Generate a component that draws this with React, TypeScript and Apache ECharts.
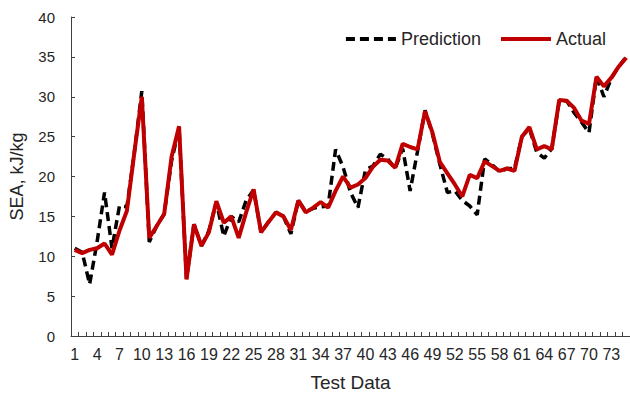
import React, { useEffect, useRef } from "react";
import * as echarts from "echarts";

const categories = [
  "1", "2", "3", "4", "5", "6", "7", "8", "9", "10",
  "11", "12", "13", "14", "15", "16", "17", "18", "19", "20",
  "21", "22", "23", "24", "25", "26", "27", "28", "29", "30",
  "31", "32", "33", "34", "35", "36", "37", "38", "39", "40",
  "41", "42", "43", "44", "45", "46", "47", "48", "49", "50",
  "51", "52", "53", "54", "55", "56", "57", "58", "59", "60",
  "61", "62", "63", "64", "65", "66", "67", "68", "69", "70",
  "71", "72", "73", "74", "75",
];

const actual = [
  10.8, 10.4, 10.8, 11.0, 11.6, 10.2, 13.2, 15.7, 23.0, 30.0,
  12.3, 13.8, 15.3, 22.5, 26.3, 7.1, 14.0, 11.3, 13.0, 16.9,
  14.2, 15.0, 12.3, 15.5, 18.4, 13.0, 14.3, 15.5, 15.0, 13.3,
  17.0, 15.5, 16.1, 16.8, 16.1, 18.2, 20.0, 18.6, 19.0, 19.8,
  21.2, 22.1, 22.0, 21.1, 24.1, 23.7, 23.4, 28.2, 25.5, 21.8,
  20.4, 19.0, 17.5, 20.2, 19.8, 21.9, 21.3, 20.7, 21.0, 20.7,
  25.0, 26.2, 23.4, 23.8, 23.4, 29.6, 29.5, 28.6, 27.0, 26.6,
  32.5, 31.3, 32.4, 33.8, 34.9,
];

const prediction = [
  11.0, 10.5, 6.5, 11.8, 18.0, 11.0, 16.3, 16.2, 23.0, 30.7,
  11.8, 13.8, 15.3, 22.0, 26.0, 7.2, 14.0, 11.3, 13.2, 16.8,
  12.5, 15.0, 14.3, 17.0, 18.3, 13.0, 14.3, 15.5, 15.0, 12.8,
  17.0, 15.6, 16.0, 16.2, 16.3, 23.4, 21.2, 18.0, 16.1, 20.8,
  21.3, 22.8, 22.2, 21.0, 23.5, 18.2, 23.2, 28.3, 25.3, 21.5,
  18.0, 18.2, 17.0, 16.3, 15.2, 22.2, 21.5, 20.6, 21.0, 21.0,
  25.0, 26.0, 23.0, 22.3, 23.5, 29.4, 29.5, 28.0, 26.8, 25.5,
  32.5, 30.0, 32.3, 33.8, 35.0,
];

const FONT = "'Liberation Sans', Arial, sans-serif";

export default function App() {
  const ref = useRef<HTMLDivElement>(null);

  useEffect(() => {
    if (!ref.current) return;
    const chart = echarts.init(ref.current, undefined, { renderer: "svg" });
    chart.setOption({
      animation: false,
      backgroundColor: "#ffffff",
      textStyle: { fontFamily: FONT },
      legend: {
        right: 19,
        top: 25,
        itemWidth: 50,
        itemHeight: 14,
        itemGap: 18,
        itemStyle: { opacity: 0 },
        lineStyle: { width: 4 },
        textStyle: { fontSize: 18, color: "#262626", fontFamily: FONT },
        data: ["Prediction", "Actual"],
      },
      grid: { left: 69, right: 0, top: 17, bottom: 60, containLabel: false },
      xAxis: {
        type: "category",
        data: categories,
        boundaryGap: true,
        name: "Test Data",
        nameLocation: "middle",
        nameGap: 37,
        nameTextStyle: { fontSize: 19, color: "#262626", fontFamily: FONT },
        axisLine: { lineStyle: { color: "#404040", width: 1 } },
        axisTick: { show: true, inside: true, length: 4, interval: 0, lineStyle: { color: "#404040" } },
        axisLabel: { interval: 2, fontSize: 16, color: "#262626", margin: 10, fontFamily: FONT },
        splitLine: { show: false },
      },
      yAxis: {
        type: "value",
        min: 0,
        max: 40,
        interval: 5,
        name: "SEA, kJ/kg",
        nameLocation: "middle",
        nameGap: 45,
        nameTextStyle: { fontSize: 18, color: "#262626", fontFamily: FONT },
        axisLine: { show: true, lineStyle: { color: "#404040", width: 1 } },
        axisTick: { show: true, inside: true, length: 4, lineStyle: { color: "#404040" } },
        axisLabel: { fontSize: 15, color: "#262626", margin: 16, fontFamily: FONT },
        splitLine: { show: false },
      },
      series: [
        {
          name: "Prediction",
          type: "line",
          data: prediction,
          symbol: "none",
          showSymbol: false,
          lineStyle: { color: "#000000", width: 3.5, type: [9, 5] },
          itemStyle: { color: "#000000" },
          z: 2,
        },
        {
          name: "Actual",
          type: "line",
          data: actual,
          symbol: "none",
          showSymbol: false,
          lineStyle: { color: "#C00000", width: 4 },
          itemStyle: { color: "#C00000" },
          z: 3,
        },
      ],
    });
    return () => chart.dispose();
  }, []);

  return (
    <div
      ref={ref}
      style={{ position: "absolute", left: 0, top: 0, width: 630, height: 397 }}
    />
  );
}
